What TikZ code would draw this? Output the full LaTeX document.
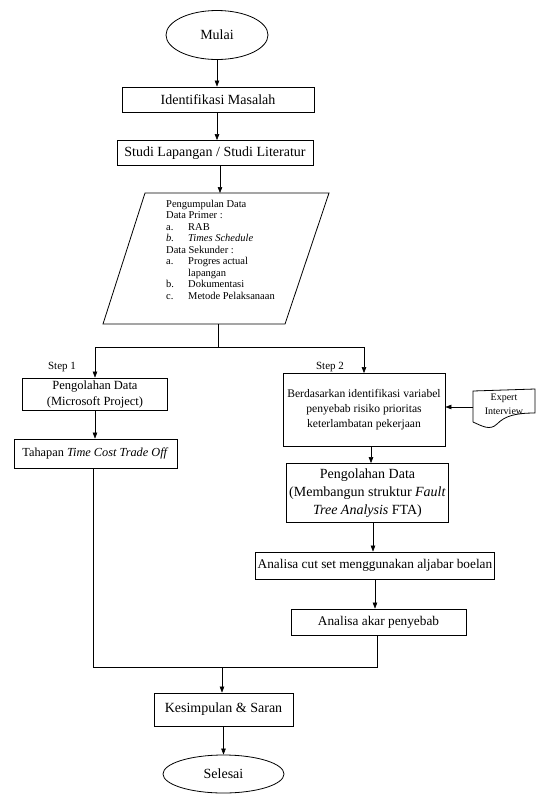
\documentclass[tikz,border=0pt]{standalone}
\usepackage{fontspec}
\setmainfont{Liberation Serif}
\usetikzlibrary{shapes.geometric,arrows.meta}
\begin{document}
\begin{tikzpicture}[x=1pt,y=-1pt,
  box/.style={draw, line width=0.8pt, align=center, inner sep=0pt},
  oval/.style={draw, ellipse, line width=0.8pt, inner sep=0pt},
  arr/.style={-{Triangle[length=6pt,width=4.5pt]}, line width=0.6pt},
  ln/.style={line width=0.6pt},
  fbig/.style={font=\fontsize{14}{18}\selectfont},
  fmid/.style={font=\fontsize{13.3}{16}\selectfont},
  fsm/.style={font=\fontsize{12.5}{16}\selectfont},
  frb/.style={font=\fontsize{11.6}{15}\selectfont},
]
\useasboundingbox (0,0) rectangle (536,796);

% top
\node[oval, fbig, minimum width=102pt, minimum height=49pt] (mulai) at (217,35) {Mulai};
\node[box, fbig, minimum width=192pt, minimum height=25pt] (ident) at (218,99.5) {Identifikasi Masalah};
\node[box, fbig, minimum width=196pt, minimum height=25pt] (studi) at (215,153) {Studi Lapangan / Studi Literatur};

% parallelogram
\coordinate (pA) at (145,193);
\coordinate (pB) at (329,193);
\coordinate (pC) at (285,324);
\coordinate (pD) at (103,324);
\coordinate (pTop) at (220,193);
\coordinate (pBot) at (218,324);
\draw[line width=0.8pt] (pA) -- (pB) -- (pC) -- (pD) -- cycle;
\node[anchor=north west, align=left, inner sep=0pt, font=\fontsize{10.5}{11.5}\selectfont] (data) at (166,200) {%
Pengumpulan Data\\
Data Primer :\\
\makebox[22pt][l]{a.}RAB\\
\makebox[22pt][l]{\itshape b.}\textit{Times Schedule}\\
Data Sekunder :\\
\makebox[22pt][l]{a.}Progres actual\\
\makebox[22pt][l]{}lapangan\\
\makebox[22pt][l]{b.}Dokumentasi\\
\makebox[22pt][l]{c.}Metode Pelaksanaan};

% split
\coordinate (split) at (218,347);
\node[font=\fontsize{11}{13}\selectfont, inner sep=0pt] (step1) at (62,367) {Step 1};
\node[font=\fontsize{11}{13}\selectfont, inner sep=0pt] (step2) at (330,367) {Step 2};

% left column
\node[box, fsm, minimum width=145pt, minimum height=32pt] (pd1) at (95,394) {Pengolahan Data\\(Microsoft Project)};
\node[box, font=\fontsize{12.3}{15}\selectfont, minimum width=163pt, minimum height=29pt] (tct) at (95.5,453.5) {Tahapan \textit{Time Cost Trade Off}};

% right column
\node[box, frb, minimum width=162pt, minimum height=73pt] (berd) at (364,410) {Berdasarkan identifikasi variabel\\penyebab risiko prioritas\\keterlambatan pekerjaan};
\node[box, fbig, minimum width=162pt, minimum height=59pt] (fta) at (367.5,493) {Pengolahan Data\\(Membangun struktur \textit{Fault}\\\textit{Tree Analysis} FTA)};
\node[box, fmid, minimum width=239pt, minimum height=27pt] (cut) at (375,565.5) {Analisa cut set menggunakan aljabar boelan};
\node[box, fmid, minimum width=175pt, minimum height=26pt] (akar) at (378.5,622) {Analisa akar penyebab};

% expert interview document
\coordinate (dTL) at (473,391);
\coordinate (dTR) at (535,389);
\coordinate (dBR) at (535,413);
\coordinate (dBL) at (473,422);
\coordinate (dL) at (473,407);
\draw[line width=0.8pt] (dBL) -- (dTL) -- (dTR) -- (dBR)
  .. controls (515,413) and (505,416) .. (497,424)
  .. controls (490,431) and (482,426) .. (dBL);
\node[align=center, inner sep=0pt, font=\fontsize{10}{14}\selectfont] (expert) at (504,404) {Expert\\Interview};

% bottom
\node[box, fbig, minimum width=139pt, minimum height=33pt] (kes) at (223.5,709.5) {Kesimpulan \& Saran};
\node[oval, fbig, minimum width=121pt, minimum height=38pt] (selesai) at (223.5,774) {Selesai};

% merge coordinates
\coordinate (mL) at (93,667);
\coordinate (mR) at (377,667);
\coordinate (mC) at (222,667);
\coordinate (xr1) at (371,0);
\coordinate (xr2) at (373,0);
\coordinate (xr3) at (375,0);

% connectors
\draw[arr] (mulai.south) -- (mulai.south |- ident.north);
\draw[arr] (ident.south -| mulai.south) -- (mulai.south |- studi.north);
\draw[arr] (studi.south -| pTop) -- (pTop);
\draw[ln] (pBot) -- (split);
\draw[arr] (split) -| (pd1.north);
\draw[arr] (split) -| (berd.north);
\draw[arr] (pd1.south) -- (pd1.south |- tct.north);
\draw[ln] (tct.south -| mL) -- (mL) -- (mR) -- (akar.south -| mR);
\draw[arr] (dL) -- (berd.east |- dL);
\draw[arr] (berd.south -| xr1) -- (fta.north -| xr1);
\draw[arr] (fta.south -| xr2) -- (cut.north -| xr2);
\draw[arr] (cut.south -| xr3) -- (akar.north -| xr3);
\draw[arr] (mC) -- (kes.north -| mC);
\draw[arr] (kes.south -| selesai.north) -- (selesai.north);
\end{tikzpicture}
\end{document}
